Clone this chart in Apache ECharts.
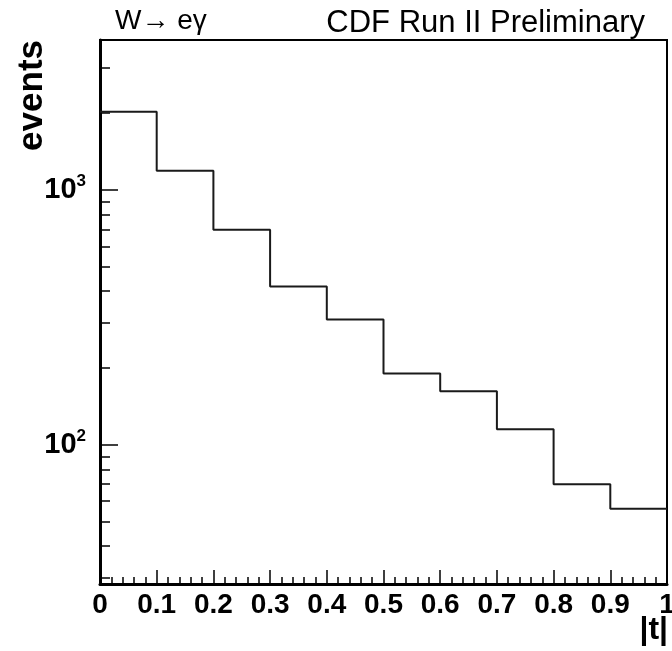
<!DOCTYPE html>
<html>
<head>
<meta charset="utf-8">
<script src="https://cdn.jsdelivr.net/npm/echarts@6/dist/echarts.min.js"></script>
<style>
html,body{margin:0;padding:0;background:#fff;}
#chart{width:672px;height:651px;}
</style>
</head>
<body>
<div id="chart"></div>
<script>
// Bin edges of |t| and event counts per bin
const binEdges = [0, 0.1, 0.2, 0.3, 0.4, 0.5, 0.6, 0.7, 0.8, 0.9, 1.0];
const counts = [2026, 1187, 697, 417, 310, 190, 162, 115, 70, 56];
// Axis ranges and tick values
const xRange = [0, 1];
const yRange = [28.4, 3870];
const yMajorTicks = [100, 1000];
const yMinorTicks = [30, 40, 50, 60, 70, 80, 90, 200, 300, 400, 500, 600, 700, 800, 900, 2000, 3000];
const titleLeft = 'W\u2192 e\u03b3';
const titleRight = 'CDF Run II Preliminary';
const yName = 'events';
const xName = '|t|';

// step points: each bin starts at its left edge, last point closes at right edge
const stepData = counts.map((c, i) => [binEdges[i], c]);
stepData.push([binEdges[binEdges.length - 1], counts[counts.length - 1]]);

const chart = echarts.init(document.getElementById('chart'), null, {renderer: 'canvas'});
const font = '"Liberation Sans", Arial, Helvetica, sans-serif';

chart.setOption({
  animation: false,
  backgroundColor: '#fff',
  title: [
    {text: titleLeft, left: 110, top: 2, textStyle: {fontFamily: font, fontSize: 28, fontWeight: 'normal', color: '#000'}},
    {text: titleRight, right: 22, top: 3, textStyle: {fontFamily: font, fontSize: 31, fontWeight: 'normal', color: '#000'}}
  ],
  graphic: [
    {type: 'text', x: 32, y: 40, rotation: Math.PI / 2,
     style: {text: yName, fontFamily: font, fontSize: 35, fontWeight: 'bold', fill: '#000', align: 'right', verticalAlign: 'middle'}},
    {type: 'text', x: 668, y: 614,
     style: {text: xName, fontFamily: font, fontSize: 32, fontWeight: 'bold', fill: '#000', align: 'right', verticalAlign: 'top'}}
  ],
  grid: {left: 100, right: 5, top: 40, bottom: 67, containLabel: false, outerBoundsMode: 'none',
         show: true, borderColor: '#000', borderWidth: 2, backgroundColor: 'transparent'},
  xAxis: {
    type: 'value', min: xRange[0], max: xRange[1], interval: 0.1,
    axisLine: {lineStyle: {color: '#000', width: 3}},
    axisTick: {inside: true, length: 14, lineStyle: {color: '#000', width: 1.5}},
    minorTick: {show: true, splitNumber: 5, length: 7, lineStyle: {color: '#000', width: 1.5}},
    splitLine: {show: false},
    axisLabel: {
      margin: 7, color: '#000', fontFamily: font, fontSize: 28, fontWeight: 'bold',
      formatter: v => { const r = Math.round(v * 10) / 10; return r === 0 ? '0' : (r === 1 ? '1' : r.toFixed(1)); }
    }
  },
  yAxis: [
    {
      type: 'log', logBase: 10, min: yRange[0], max: yRange[1], position: 'left',
      axisLine: {lineStyle: {color: '#000', width: 3}},
      axisTick: {inside: true, length: 18, customValues: yMajorTicks, lineStyle: {color: '#000', width: 1.5}},
      splitLine: {show: false},
      minorTick: {show: false},
      axisLabel: {
        customValues: yMajorTicks, margin: 14, color: '#000', fontFamily: font, fontSize: 29, fontWeight: 'bold',
        formatter: v => {
          const e = Math.round(Math.log10(v));
          if (Math.abs(Math.pow(10, e) - v) > 1e-6 * v) return '';
          return '10{s|' + e + '}';
        },
        rich: {s: {fontFamily: font, fontSize: 17, fontWeight: 'bold', color: '#000', verticalAlign: 'top', padding: [0, 0, 16, 0]}}
      }
    },
    {
      type: 'log', logBase: 10, min: yRange[0], max: yRange[1], position: 'left', offset: 0,
      axisLine: {show: false},
      axisTick: {inside: true, length: 10, customValues: yMinorTicks, lineStyle: {color: '#000', width: 1.5}},
      axisLabel: {show: false},
      splitLine: {show: false},
      minorTick: {show: false}
    }
  ],
  series: [{
    type: 'line', step: 'end', yAxisIndex: 0, symbol: 'none', clip: true,
    data: stepData,
    lineStyle: {color: '#1a1a1a', width: 2}
  }]
});
</script>
</body>
</html>
